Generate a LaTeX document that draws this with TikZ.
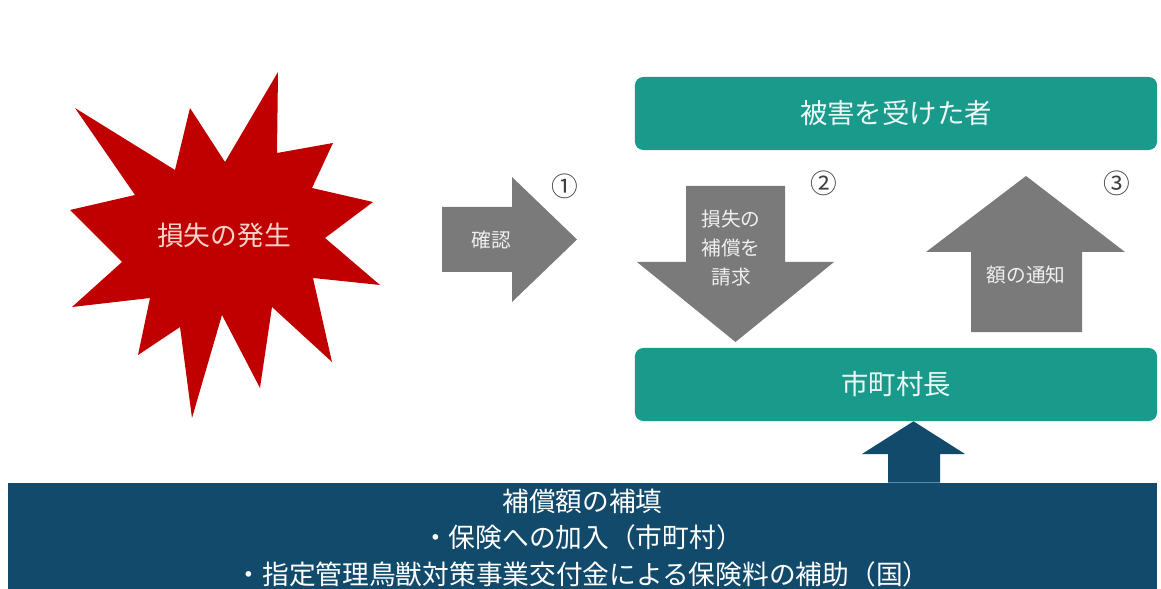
\documentclass[tikz,border=0pt]{standalone}
\usepackage{fontspec}
\setmainfont{Noto Sans CJK JP}
\usepackage{xcolor}
\usepackage{tikz}
\usetikzlibrary{positioning, calc}

\definecolor{burstred}{HTML}{C00000}
\definecolor{burstpink}{HTML}{F7D2C8}
\definecolor{arrowgray}{HTML}{7A7A7A}
\definecolor{boxteal}{HTML}{199A8B}
\definecolor{boxnavy}{HTML}{114A6B}

\begin{document}
\begin{tikzpicture}[
    x=0.025cm, y=-0.025cm,
    % Node styles with colors
    tealbox/.style={rectangle, rounded corners=6pt, fill=boxteal, minimum width=13.05cm, minimum height=1.825cm, text centered, text=white!92!boxteal, font=\fontsize{19.5}{23}\selectfont},
    navybox/.style={rectangle, fill=boxnavy, minimum width=28.725cm, minimum height=2.75cm, align=center, text=white, font=\fontsize{19}{26}\selectfont},
    arrowlab/.style={align=center, text=white!88!arrowgray, font=\fontsize{14}{20.5}\selectfont},
    burstlab/.style={text=burstpink, font=\fontsize{19}{23}\selectfont},
    steplab/.style={text=black!75, font=\fontsize{19}{23}\selectfont},
    grayarrow/.style={fill=arrowgray},
    navyarrow/.style={fill=boxnavy}
]
\useasboundingbox (0,0) rectangle (1161,589);

% === LOSS (starburst) ===
\fill[burstred] (75,108) -- (175,170) -- (190,108) -- (225,162) -- (278,72) -- (277,153)
  -- (333,143) -- (312,188) -- (373,202) -- (325,238) -- (380,285) -- (313,278)
  -- (332,362) -- (272,307) -- (260,388) -- (222,315) -- (192,418) -- (180,327)
  -- (138,355) -- (150,298) -- (72,307) -- (122,262) -- (70,210) -- (135,195) -- cycle;
\node[burstlab] (loss) at (224,235) {損失の発生};

% === BOXES ===
\node[tealbox] (victim) at (896,113.5) {被害を受けた者};
\node[tealbox] (mayor) at (896,384.5) {市町村長};
\node[navybox] (fund) at (582.5,538) {補償額の補填\\・保険への加入（市町村）\\・指定管理鳥獣対策事業交付金による保険料の補助（国）};

% === BLOCK ARROWS ===
% (1) check
\fill[grayarrow] (442,207) -- (512,207) -- (512,177) -- (577,239.5) -- (512,302) -- (512,272) -- (442,272) -- cycle;
\node[arrowlab] (check) at (491,240) {確認};
\node[steplab] (one) at (565,186) {①};

% (2) claim
\fill[grayarrow] (686,186) -- (785,186) -- (785,262) -- (834,262) -- (735.5,342) -- (637,262) -- (686,262) -- cycle;
\node[arrowlab] (claim) at (731,248) {損失の\\補償を\\請求};
\node[steplab] (two) at (824,183) {②};

% (3) notice
\fill[grayarrow] (1026,176) -- (1125,252) -- (1082,252) -- (1082,332) -- (971,332) -- (971,252) -- (926,252) -- cycle;
\node[arrowlab] (notice) at (1026,275) {額の通知};
\node[steplab] (three) at (1117,183) {③};

% fund to mayor
\fill[navyarrow] (fund.north -| 888,0) -- (888,454) -- (862,454) -- (mayor.south -| 913.5,0) -- (965,454) -- (940,454) -- (fund.north -| 940,0) -- cycle;

\end{tikzpicture}
\end{document}
